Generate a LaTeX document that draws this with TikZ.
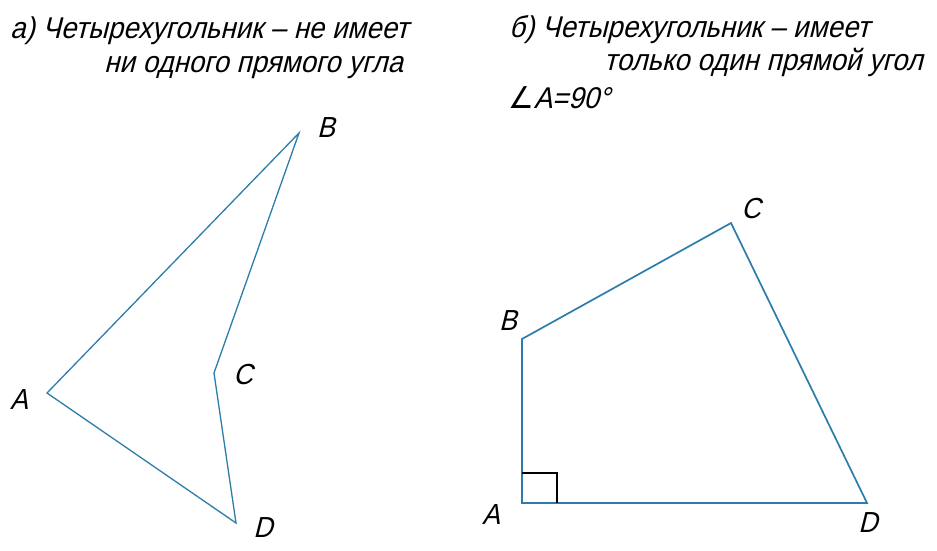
\documentclass[tikz,border=0pt]{standalone}
\usepackage{fontspec}
\setmainfont{Liberation Sans}[ItalicFont={Liberation Sans Italic}]
\newfontfamily\gost{Liberation Sans}[FakeSlant=0.25,FakeStretch=0.92]
\newfontfamily\symf{DejaVu Sans}[FakeStretch=0.95]
\begin{document}
\begin{tikzpicture}[x=1pt,y=-1pt,
  edge/.style={draw=figblue,line width=1.5pt,line join=miter},
  lbl/.style={font=\gost\fontsize{30}{30}\selectfont,inner sep=0pt,anchor=base west},
  vlab/.style={font=\gost\fontsize{29}{29}\selectfont,inner sep=0pt}]
\definecolor{figblue}{RGB}{45,125,170}
\useasboundingbox[fill=white] (0,0) rectangle (937,550);
% titles
\node[lbl] (t1) at (10,38) {а) Четырехугольник – не имеет};
\node[lbl] (t2) at (104,72) {ни одного прямого угла};
\node[lbl] (t3) at (509,37) {б) Четырехугольник – имеет};
\node[lbl] (t4) at (604,70) {только один прямой угол};
\node[lbl] (t5) at (508,108) {{\symf ∠}A=90°};
% left figure
\coordinate (A1) at (47,393);
\coordinate (B1) at (299,133);
\coordinate (C1) at (214,373);
\coordinate (D1) at (236,523);
\draw[edge,line width=1.3pt] (A1) -- (B1) -- (C1) -- (D1) -- cycle;
\node[vlab] (la1) at (19,400) {A};
\node[vlab] (lb1) at (326,128) {B};
\node[vlab] (lc1) at (243,375) {C};
\node[vlab] (ld1) at (263,528) {D};
% right figure
\coordinate (A2) at (522,503);
\coordinate (B2) at (522,339);
\coordinate (C2) at (731,223);
\coordinate (D2) at (867,503);
\draw[edge,line width=1.7pt] (A2) -- (B2) -- (C2) -- (D2) -- cycle;
\draw[line width=1.2pt,black] (A2) ++(0,-30) -| ++(35,30);
\node[vlab] (la2) at (491,515) {A};
\node[vlab] (lb2) at (508,321) {B};
\node[vlab] (lc2) at (751,209) {C};
\node[vlab] (ld2) at (868,523) {D};
\end{tikzpicture}
\end{document}
